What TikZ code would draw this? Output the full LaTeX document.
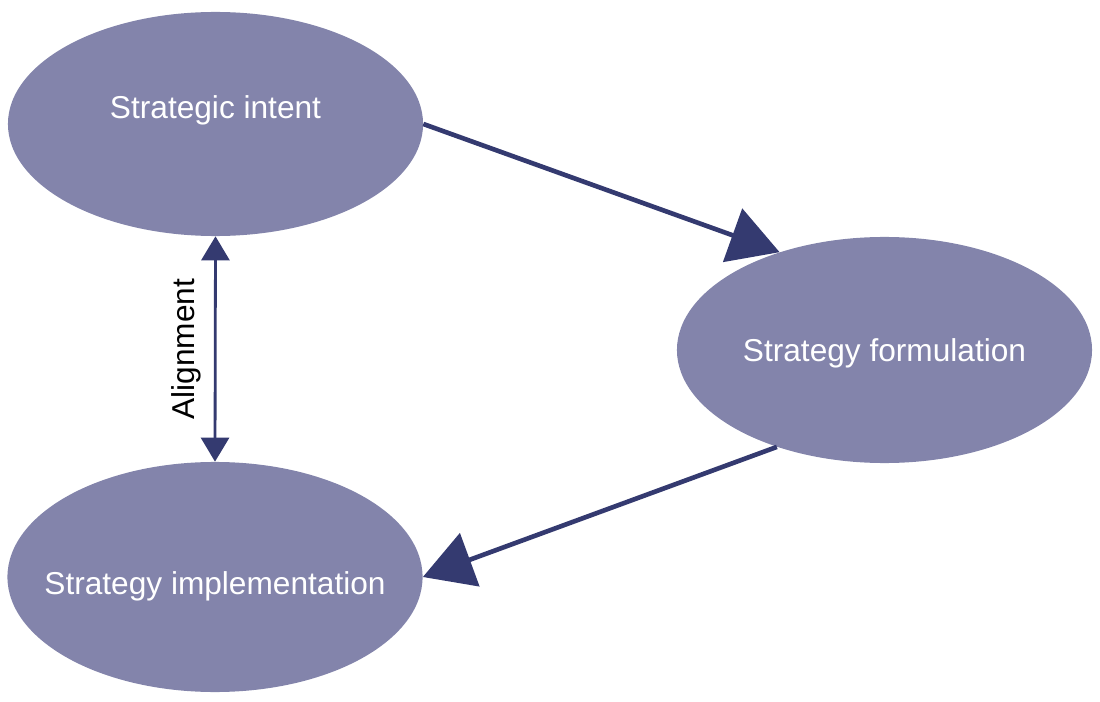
\documentclass[tikz,border=0pt]{standalone}
\usepackage{fontspec}
\setmainfont{Liberation Sans}
\usepackage{tikz}
\usetikzlibrary{positioning}
\usetikzlibrary{shapes.geometric}
\usetikzlibrary{arrows.meta}

\definecolor{bubblefill}{HTML}{8384AB}
\definecolor{arrownavy}{HTML}{343A70}

\begin{document}
\begin{tikzpicture}[
                          x=0.025cm, y=-0.025cm,
                          bubble/.style={ellipse, fill=bubblefill, inner sep=0pt, minimum width=10.375cm, minimum height=5.6cm},
                          bubbletext/.style={text=white, inner sep=0pt, text height=0.72em, text depth=0pt, font=\fontsize{22.5}{27}\selectfont},
                          bigarrow/.style={draw=arrownavy, line width=3.3pt, -{Triangle[length=1.25cm, width=1.4cm]}},
                          thinarrow/.style={draw=arrownavy, line width=2pt, {Triangle[length=0.6cm, width=0.7cm]}-{Triangle[length=0.6cm, width=0.7cm]}},
                      ]
                      \useasboundingbox (0,0) rectangle (1100,702);

                      %Nodes
                      \node[bubble, label={[bubbletext, yshift=7.5pt]center:Strategic intent}]             (intent)          at (215.5,124)   {};
                      \node[bubble, minimum height=5.65cm, label={[bubbletext, yshift=-4.5pt]center:Strategy formulation}]  (formulation)     at (884.5,350)   {};
                      \node[bubble, minimum height=5.75cm, label={[bubbletext, yshift=-8.5pt]center:Strategy implementation}] (implementation)  at (215,577)     {};

                      %Lines
                      \draw[bigarrow] (intent.east) -- (formulation.137);
                      \draw[bigarrow] (formulation.222) -- (implementation.east);
                      \draw[thinarrow] (intent.south) -- (implementation.north)
                          node[midway, rotate=90, anchor=south, inner sep=9pt, font=\fontsize{22.5}{27}\selectfont] (alignment) {Alignment};
                  \end{tikzpicture}
\end{document}
